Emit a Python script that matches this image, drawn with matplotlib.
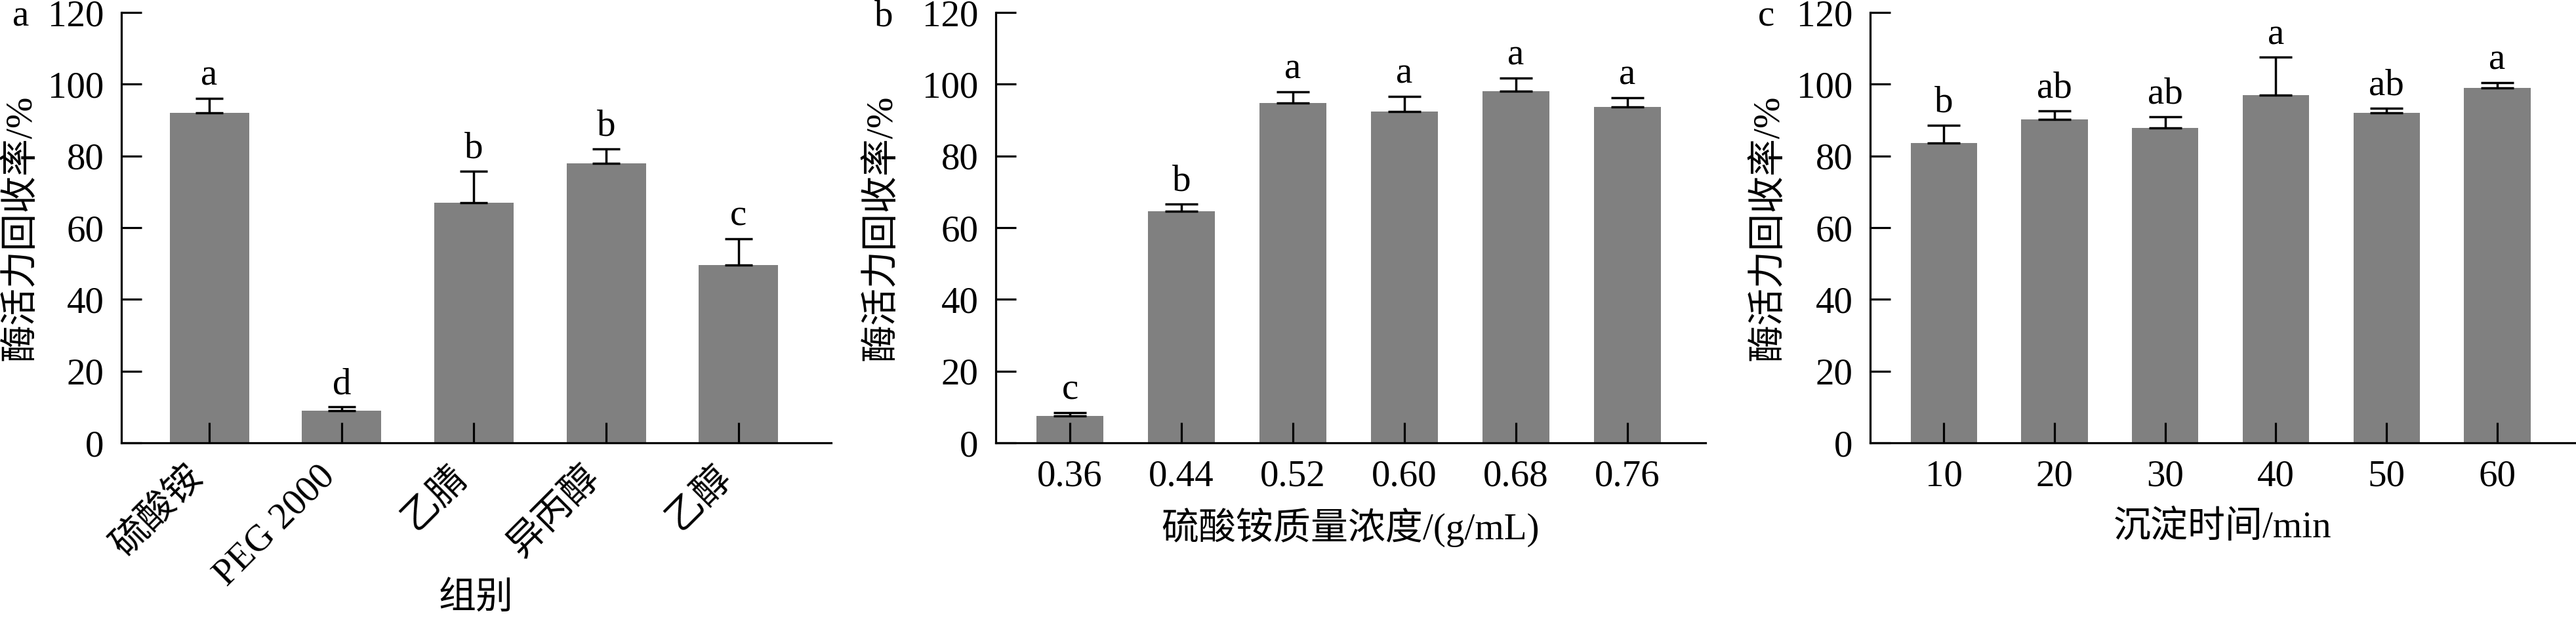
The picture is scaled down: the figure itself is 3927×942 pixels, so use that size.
import numpy as np
import matplotlib.pyplot as plt

plt.rcParams['font.family'] = ['Liberation Serif', 'Noto Sans CJK SC']
plt.rcParams['axes.unicode_minus'] = False

FS = 41
GRAY = '#808080'

# panel a
groups_a = ['硫酸铵', 'PEG 2000', '乙腈', '异丙醇', '乙醇']
vals_a = [92, 9, 67, 78, 49.5]
err_a = [4, 1, 8.8, 3.9, 7.4]
sig_a = ['a', 'd', 'b', 'b', 'c']

# panel b
conc_b = ['0.36', '0.44', '0.52', '0.60', '0.68', '0.76']
vals_b = [7.5, 64.6, 94.7, 92.3, 98.0, 93.7]
err_b = [1.0, 2.0, 3.2, 4.3, 3.8, 2.5]
sig_b = ['c', 'b', 'a', 'a', 'a', 'a']

# panel c
time_c = ['10', '20', '30', '40', '50', '60']
vals_c = [83.6, 90.1, 87.8, 96.9, 92.0, 98.9]
err_c = [5.0, 2.5, 3.1, 10.6, 1.3, 1.6]
sig_c = ['b', 'ab', 'ab', 'a', 'ab', 'a']


def draw_panel(ax, labels, vals, errs, sig, capsize):
    x = np.arange(len(labels))
    ax.bar(x, vals, width=0.6, color=GRAY, zorder=1)
    ax.errorbar(x, vals, yerr=[np.zeros(len(errs)), errs], fmt='none',
                ecolor='black', elinewidth=2.5, capsize=capsize, capthick=2.5,
                zorder=3)
    for xi, v, e, s in zip(x, vals, errs, sig):
        ax.annotate(s, (xi, v + e), xytext=(0, 6), textcoords='offset points',
                    ha='center', va='bottom', fontsize=FS, annotation_clip=False)
    ax.set_ylim(0, 120)
    ax.set_yticks(range(0, 121, 20))
    ax.set_xticks(x)
    ax.set_xlim(-0.665, len(labels) - 1 + 0.70)
    for side in ['top', 'right']:
        ax.spines[side].set_visible(False)
    for side in ['left', 'bottom']:
        ax.spines[side].set_linewidth(2.3)
    ax.tick_params(axis='both', direction='in', length=22, width=2.3,
                   labelsize=FS)
    ax.tick_params(axis='y', pad=19)
    ax.tick_params(axis='x', pad=18)
    ax.set_ylabel('酶活力回收率/%', fontsize=FS, va='center')


fig = plt.figure(figsize=(39.27, 9.42), dpi=100)
bottom, height = 0.2834, 0.6964
ax_a = fig.add_axes([0.04711, bottom, 0.2755, height])
ax_b = fig.add_axes([0.38656, bottom, 0.2755, height])
ax_c = fig.add_axes([0.7260, bottom, 0.2735, height])

draw_panel(ax_a, groups_a, vals_a, err_a, sig_a, 15)
ax_a.set_xticklabels(groups_a, rotation=45, ha='right', va='top')
ax_a.set_xlabel('组别', fontsize=FS, va='center')
ax_a.xaxis.set_label_coords(0.5, -0.363)
ax_a.yaxis.set_label_coords(-0.142, 0.5)

draw_panel(ax_b, conc_b, vals_b, err_b, sig_b, 18)
ax_b.set_xticklabels(conc_b)
ax_b.set_xlabel('硫酸铵质量浓度/(g/mL)', fontsize=FS, va='center')
ax_b.xaxis.set_label_coords(0.5, -0.197)
ax_b.yaxis.set_label_coords(-0.161, 0.5)

draw_panel(ax_c, time_c, vals_c, err_c, sig_c, 18)
ax_c.set_xticklabels(time_c)
ax_c.set_xlabel('沉淀时间/min', fontsize=FS, va='center')
ax_c.xaxis.set_label_coords(0.5, -0.197)
ax_c.yaxis.set_label_coords(-0.145, 0.5)

for xpos, letter in [(0.0048, 'a'), (0.3395, 'b'), (0.6825, 'c')]:
    fig.text(xpos, 1 - 39 / 942, letter, fontsize=FS, va='baseline', ha='left')

fig.savefig('out.png', dpi=100)
